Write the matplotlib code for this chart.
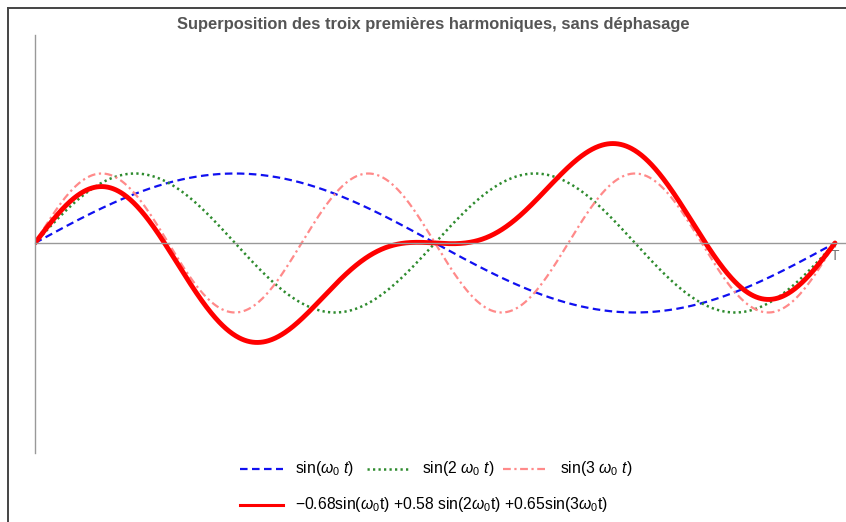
import numpy as np
import matplotlib.pyplot as plt
from matplotlib.lines import Line2D

plt.rcParams['font.family'] = ['Liberation Sans', 'DejaVu Sans']
plt.rcParams['mathtext.fontset'] = 'custom'
plt.rcParams['mathtext.rm'] = 'Liberation Sans'
plt.rcParams['mathtext.it'] = 'Liberation Sans:italic'

# ── data ────────────────────────────────────────────────────────────────────
harmonics = [1, 2, 3]
coeffs = [-0.68, 0.58, 0.65]
labels = [r'sin($\omega_0$ $t$)', r'sin(2 $\omega_0$ $t$)', r'sin(3 $\omega_0$ $t$)']
sum_label = r'$-$0.68sin($\omega_0$t) +0.58 sin(2$\omega_0$t) +0.65sin(3$\omega_0$t)'
title = 'Superposition des troix premières harmoniques, sans déphasage'

t = np.linspace(0, 1, 1200)   # t / T
harm = [np.sin(2 * np.pi * n * t) for n in harmonics]
total = sum(c * h for c, h in zip(coeffs, harm))

styles = [
    dict(color='#1010f0', lw=1.6, ls=(0, (3.4, 2.0))),
    dict(color='#2e8b2e', lw=1.8, ls=(0, (0.9, 1.3))),
    dict(color='#ff8a8a', lw=1.6, ls=(0, (3.5, 1.6, 1.0, 1.6))),
]
red = dict(color='#ff0000', lw=3.5)

# ── figure ──────────────────────────────────────────────────────────────────
W, H = 846, 522
fig = plt.figure(figsize=(W / 100, H / 100), dpi=100)

x0, x1 = 35, 846         # pixel span of the axes
y_top, y_bot = 35, 453
x_T = 835                # pixel of t = T
y_zero, unit = 243, 69.5

ax = fig.add_axes([x0 / W, (H - y_bot) / H, (x1 - x0) / W, (y_bot - y_top) / H])
ax.set_xlim(0, (x1 - x0) / (x_T - x0))
ax.set_ylim(-(y_bot - y_zero) / unit, (y_zero - y_top) / unit)

for h, st in zip(harm, styles):
    ax.plot(t, h, **st)
ax.plot(t, total, **red, solid_capstyle='round')

for s in ['top', 'right']:
    ax.spines[s].set_visible(False)
ax.spines['left'].set_position(('data', 0))
ax.spines['bottom'].set_position(('data', 0))
for s in ['left', 'bottom']:
    ax.spines[s].set_color('#999999')
    ax.spines[s].set_linewidth(1.0)
ax.set_yticks([])
ax.set_xticks([1])
ax.set_xticklabels(['T'], color='#777777', fontsize=10)
ax.tick_params(axis='x', length=3, color='#999999', pad=1, direction='out')
ax.patch.set_alpha(0)

fig.text(433 / W, 1 - 25 / H, title, ha='center', va='center',
         fontsize=11.9, fontweight='bold', color='#555555')

# legend, drawn by hand in pixel coords
def leg_line(xa, xb, y, st):
    fig.add_artist(Line2D([xa / W, xb / W], [1 - y / H, 1 - y / H],
                          transform=fig.transFigure, **st))

leg_pos = [(240, 283, 295), (367, 410, 422), (503, 547, 560)]
for (xa, xb, xt), st, lab in zip(leg_pos, styles, labels):
    leg_line(xa, xb, 469, st)
    fig.text(xt / W, 1 - 469 / H, lab, ha='left', va='center', fontsize=11.3)
leg_line(240, 283, 505, dict(color='#ff0000', lw=2.2))
fig.text(295 / W, 1 - 505 / H, sum_label, ha='left', va='center', fontsize=11.3)

# screenshot frame
fig.add_artist(Line2D([8 / W, 1], [1 - 7.5 / H] * 2, transform=fig.transFigure,
                      color='#444444', lw=1.4))
fig.add_artist(Line2D([8 / W] * 2, [0, 1 - 7.5 / H], transform=fig.transFigure,
                      color='#444444', lw=1.4))

fig.savefig('out.png', dpi=100)
